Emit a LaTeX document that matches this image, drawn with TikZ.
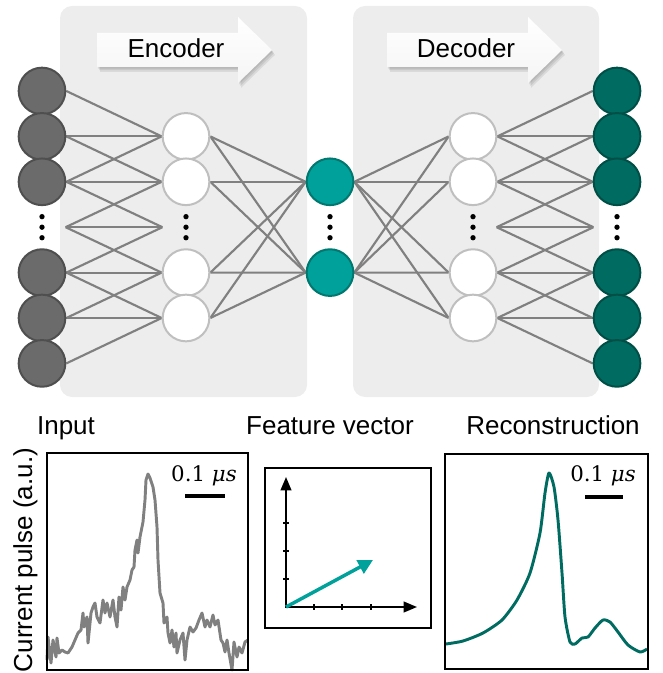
\documentclass[tikz,border=0pt]{standalone}
\usepackage{fontspec}
\setmainfont{Liberation Sans}
\newfontfamily\scalefont{DejaVu Serif}
\usetikzlibrary{arrows.meta}
\definecolor{panelgray}{HTML}{EDEDED}
\definecolor{ingray}{HTML}{6B6B6B}
\definecolor{ingraydark}{HTML}{4F4F4F}
\definecolor{linegray}{HTML}{808080}
\definecolor{hidstroke}{HTML}{BFBFBF}
\definecolor{featteal}{HTML}{00A19A}
\definecolor{featdark}{HTML}{00776F}
\definecolor{outteal}{HTML}{006B61}
\definecolor{outdark}{HTML}{004F47}
\pgfdeclarelayer{bg}
\pgfsetlayers{bg,main}
\newcommand\lblfont{\fontsize{19.5}{23}\selectfont}
\newcommand\scalelblfont{\scalefont\fontsize{16}{19}\selectfont}
\begin{document}
\begin{tikzpicture}[x=0.75pt,y=-0.75pt,
  neuron/.style={circle, minimum size=35pt, inner sep=0pt, line width=1.5pt},
  inneuron/.style={neuron, fill=ingray, draw=ingraydark},
  hidneuron/.style={neuron, fill=white, draw=hidstroke},
  featneuron/.style={neuron, fill=featteal, draw=featdark},
  outneuron/.style={neuron, fill=outteal, draw=outdark},
  vdotsnode/.style={circle, minimum size=35pt, inner sep=0pt,
    path picture={\fill (path picture bounding box.center) circle[radius=2pt]
      ++(0pt,7.9pt) circle[radius=2pt] ++(0pt,-15.8pt) circle[radius=2pt];}},
  conn/.style={draw=linegray, line width=1.6pt},
  panel/.style={fill=panelgray, rounded corners=9pt},
  blockarrow/.style={top color=white, bottom color=black!4},
  arrowshadow/.style={fill=black, opacity=0.08},
  lbl/.style={font=\lblfont, inner sep=0pt, anchor=base},
  scalelbl/.style={font=\scalelblfont, inner sep=0pt, anchor=base},
  plotbox/.style={draw=black, line width=1.6pt},
  scalebar/.style={line width=3pt},
  axisline/.style={line width=1.5pt, -{Triangle[length=10pt,width=8pt]}},
  tick/.style={line width=1.1pt}
]
\useasboundingbox (0,0) rectangle (662,673);

% ---------- neurons ----------
\foreach \k in {0,1,2,4,5,6} {
  \node[inneuron] (A\k) at (42,{91+45.4*\k}) {};
  \node[outneuron] (E\k) at (617,{91+45.4*\k}) {};
}
\node[vdotsnode] (A3) at (42,227.2) {};
\node[vdotsnode] (E3) at (617,227.2) {};
\foreach \k in {1,2,4,5} {
  \node[hidneuron] (B\k) at (186,{91+45.4*\k}) {};
  \node[hidneuron] (D\k) at (473,{91+45.4*\k}) {};
}
\node[vdotsnode] (B3) at (186,227.2) {};
\node[vdotsnode] (D3) at (473,227.2) {};
\node[featneuron] (C2) at (330,181.8) {};
\node[featneuron] (C4) at (330,272.6) {};
\node[vdotsnode] (C3) at (330,227.2) {};

% ---------- panels, arrows and connectors (background) ----------
\begin{pgfonlayer}{bg}
  \fill[panel] (60,6) rectangle (307,397);
  \fill[panel] (353,6) rectangle (599,397);
  \foreach \dx in {0,290} {
    \foreach \s in {1,2,3} {
      \fill[arrowshadow, shift={(\s,1.6*\s)}] ({97+\dx},33) -- ({238+\dx},33) -- ({238+\dx},17)
        -- ({272+\dx},50) -- ({238+\dx},83) -- ({238+\dx},67) -- ({97+\dx},67) -- cycle;
    }
    \shade[blockarrow] ({97+\dx},33) -- ({238+\dx},33) -- ({238+\dx},17)
      -- ({272+\dx},50) -- ({238+\dx},83) -- ({238+\dx},67) -- ({97+\dx},67) -- cycle;
  }
  \foreach \i in {0,...,6} {
    \foreach \j in {1,...,5} {
      \pgfmathtruncatemacro\dd{abs(\i-\j)}
      \ifnum\dd<2
        \draw[conn] (A\i.east) -- (B\j.west);
        \draw[conn] (D\j.east) -- (E\i.west);
      \fi
    }
  }
  \foreach \j in {1,2,4,5} {
    \foreach \f in {2,4} {
      \draw[conn] (B\j.east) -- (C\f.west);
      \draw[conn] (C\f.east) -- (D\j.west);
    }
  }
\end{pgfonlayer}

\node[lbl] (enc) at (176,58) {Encoder};
\node[lbl] (dec) at (466,58) {Decoder};

% ---------- labels ----------
\node[lbl] (lin) at (66,434) {Input};
\node[lbl] (lfeat) at (330,434) {Feature vector};
\node[lbl] (lrec) at (553,434) {Reconstruction};
\node[lbl, rotate=90] (lcur) at (32,560) {Current pulse (a.u.)};

% ---------- input plot ----------
\draw[linegray, line width=2.2pt, line join=round] plot coordinates {
(47,660) (48,637) (51,663) (53,640) (56,657) (57,638) (59,653) (62,650) (65,652) (68,653)
(72,647) (75,640) (78,633) (81,630) (83,613) (84,627) (87,617) (88,643) (91,613) (93,607)
(95,603) (97,617) (100,623) (103,600) (105,613) (107,603) (110,617) (113,600) (115,617) (117,627)
(119,597) (121,610) (123,587) (125,600) (127,587) (130,580) (132,570) (134,567) (135,550) (137,540)
(138,553) (140,537) (142,527) (143,522) (145,500) (146,480) (148,474) (150,478) (153,487) (155,500)
(157,527) (158,560) (160,593) (163,603) (164,623) (167,617) (168,633) (170,643) (172,630) (174,647)
(176,633) (177,653) (180,640) (183,633) (185,660) (187,640) (190,627) (193,632) (196,628) (199,620)
(202,613) (205,627) (207,620) (210,627) (213,615) (215,625) (218,620) (221,640) (223,643) (225,652)
(227,640) (229,653) (232,670) (234,642) (237,657) (239,647) (242,653) (245,642) (248,640)};
\draw[plotbox] (47,453) rectangle (248,670);
\node[scalelbl] (sin) at (204,481) {0.1 \textit{μs}};
\draw[scalebar] (185,496) -- (225,496);

% ---------- feature vector plot ----------
\draw[plotbox] (265,468) rectangle (431,628);
\foreach \t in {523,551,579} \draw[tick] (283,\t) -- (289,\t);
\foreach \t in {314,342,371} \draw[tick] (\t,604) -- (\t,610);
\draw[axisline] (286,608) -- (286,477);
\draw[axisline] (285,607) -- (417,607);
\draw[featteal, line width=2.6pt, -{Triangle[length=11pt,width=11pt]}] (286,607) -- (373,560);

% ---------- reconstruction plot ----------
\draw[outteal, line width=2.2pt, line join=round] plot[smooth, tension=0.4] coordinates {
(446,644) (463,641) (483,633) (502,620) (517,600) (530,573) (540,533) (545,493) (549,473)
(554,487) (558,520) (562,573) (565,617) (570,642) (575,644) (582,638) (588,637) (595,628)
(603,620) (610,622) (618,632) (628,645) (640,652) (647,649)};
\draw[plotbox] (445,454) rectangle (648,669);
\node[scalelbl] (srec) at (603,481) {0.1 \textit{μs}};
\draw[scalebar] (585,497) -- (623,497);
\end{tikzpicture}
\end{document}
